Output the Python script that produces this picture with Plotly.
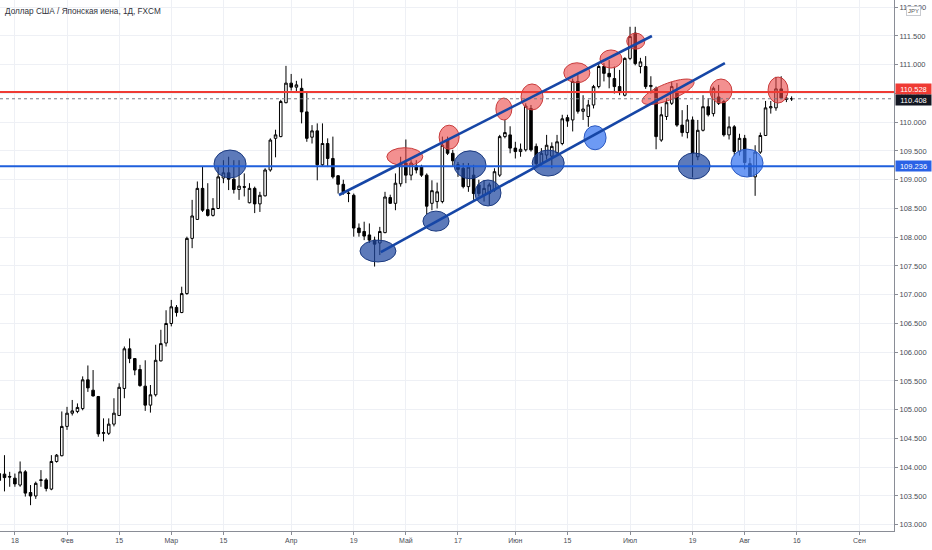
import plotly.graph_objects as go
import pandas as pd
import numpy as np

# ---------------- data (USD/JPY daily) ----------------
dates = pd.bdate_range("2021-01-13", "2021-08-13").strftime("%Y-%m-%d").tolist()

open_ = [
    # Jan
    103.77, 103.88, 103.84, 103.81, 103.69, 103.92, 103.56, 103.50, 103.77, 103.78, 103.62, 104.10, 104.20,
    # Feb
    104.71, 104.94, 104.97, 105.02, 105.52, 105.34, 105.23, 104.59, 104.59, 104.75, 104.90, 105.37, 106.06,
    105.89, 105.70, 105.41, 105.08, 105.26, 105.85, 106.16,
    # Mar
    106.50, 106.78, 106.69, 107.02, 107.98, 108.31, 108.85, 108.48, 108.38, 108.50, 109.03, 109.12, 109.01,
    108.83, 108.88, 108.60, 108.85, 108.58, 108.72, 109.17, 109.72, 109.75, 110.34,
    # Apr
    110.68, 110.61, 110.59, 110.18, 109.74, 109.85, 109.26, 109.63, 109.37, 109.07, 108.92, 108.77, 108.73,
    108.16, 108.10, 108.04, 107.95, 107.90, 108.08, 108.69, 108.59, 108.93,
    # May
    109.29, 109.08, 109.24, 109.22, 109.08, 108.59, 108.62, 108.62, 109.69, 109.46, 109.26, 109.20, 108.88,
    109.08, 108.91, 108.73, 108.76, 108.82, 109.08, 109.75, 109.78,
    # Jun
    109.55, 109.49, 109.52, 110.24, 109.58, 109.28, 109.43, 109.41, 109.47, 109.63, 110.08, 110.04, 110.71,
    110.19, 110.10, 110.30, 110.62, 110.97, 110.85, 110.76, 110.62, 110.47,
    # Jul
    111.11, 111.55, 110.97, 110.97, 110.62, 110.59, 109.69, 110.10, 110.33, 110.53, 109.95, 109.82, 110.04,
    109.40, 109.86, 110.27, 110.15, 110.44, 110.36, 109.78, 109.92, 109.49,
    # Aug
    109.72, 109.28, 109.05, 109.48, 109.77, 110.25, 110.25, 110.58, 110.42, 110.41,
]
high = [
    103.95, 104.21, 103.92, 103.89, 104.10, 103.95, 103.69, 103.75, 103.95, 103.81, 104.21, 104.23, 104.97,
    105.05, 105.17, 105.11, 105.58, 105.77, 105.69, 105.24, 104.85, 104.85, 105.20, 105.46, 106.10, 106.24,
    105.89, 105.78, 105.86, 105.43, 106.13, 106.39, 106.73,
    106.91, 106.82, 107.14, 108.01, 108.65, 108.97, 109.23, 108.94, 108.68, 109.23, 109.34, 109.40, 109.34,
    109.34, 109.11, 108.94, 108.88, 108.79, 109.20, 109.72, 109.87, 110.39, 110.98,
    110.84, 110.72, 110.76, 110.53, 109.95, 109.98, 109.98, 109.72, 109.75, 109.08, 109.00, 108.82, 108.76,
    108.24, 108.27, 108.24, 108.01, 108.18, 108.79, 108.74, 109.11, 109.40,
    109.70, 109.34, 109.34, 109.26, 109.11, 108.99, 108.95, 109.75, 109.75, 109.52, 109.31, 109.29, 109.29,
    109.26, 109.00, 108.99, 108.95, 109.20, 109.78, 110.04, 109.93,
    109.66, 109.63, 110.33, 110.30, 109.63, 109.55, 109.78, 109.65, 109.78, 110.13, 110.13, 110.76, 110.82,
    110.47, 110.39, 110.65, 111.03, 111.03, 111.08, 110.97, 110.91, 111.13,
    111.66, 111.66, 111.12, 111.15, 110.80, 110.62, 110.27, 110.42, 110.70, 110.68, 110.21, 110.30, 110.10,
    110.04, 110.47, 110.42, 110.62, 110.65, 110.39, 110.10, 109.95, 109.80,
    109.78, 109.38, 109.60, 109.82, 110.37, 110.37, 110.79, 110.80, 110.47, 110.45,
]
low = [
    103.70, 103.58, 103.66, 103.66, 103.66, 103.49, 103.34, 103.45, 103.66, 103.58, 103.60, 104.08, 104.19,
    104.65, 104.90, 104.94, 104.99, 105.31, 105.23, 104.53, 104.45, 104.56, 104.71, 104.89, 105.20, 105.81,
    105.60, 105.40, 104.98, 104.95, 105.23, 105.84, 106.10,
    106.45, 106.62, 106.68, 107.00, 107.81, 108.30, 108.44, 108.36, 108.36, 108.49, 108.94, 108.82, 108.76,
    108.65, 108.71, 108.59, 108.42, 108.44, 108.71, 109.14, 109.39, 109.74, 110.33,
    110.55, 110.53, 109.98, 109.66, 109.63, 108.99, 109.23, 109.22, 109.02, 108.76, 108.74, 108.61, 108.01,
    108.01, 107.95, 107.90, 107.49, 107.69, 108.07, 108.58, 108.47, 108.88,
    108.94, 108.99, 109.11, 109.05, 108.40, 108.47, 108.50, 108.59, 109.43, 109.23, 109.05, 108.85, 108.79,
    108.65, 108.71, 108.62, 108.56, 108.79, 109.05, 109.72, 109.46,
    109.37, 109.40, 109.49, 109.49, 109.23, 109.23, 109.35, 109.20, 109.45, 109.60, 109.92, 109.84, 110.15,
    110.04, 109.92, 110.24, 110.59, 110.71, 110.59, 110.50, 110.47, 110.45,
    111.08, 110.99, 110.85, 110.58, 110.50, 109.53, 109.66, 110.04, 110.30, 109.92, 109.75, 109.72, 109.04,
    109.34, 109.84, 110.10, 110.10, 110.30, 109.75, 109.70, 109.42, 109.42,
    109.18, 109.05, 108.72, 109.45, 109.76, 110.15, 110.20, 110.40, 110.35, 110.37,
]
close = [
    103.89, 103.82, 103.83, 103.71, 103.92, 103.55, 103.50, 103.72, 103.78, 103.63, 104.10, 104.21, 104.71,
    104.94, 104.98, 105.04, 105.52, 105.38, 105.24, 104.58, 104.60, 104.75, 104.94, 105.39, 106.06, 105.89,
    105.69, 105.42, 105.08, 105.26, 105.86, 106.15, 106.50,
    106.79, 106.69, 107.02, 107.98, 108.37, 108.85, 108.47, 108.38, 108.50, 109.05, 109.12, 109.01, 108.83,
    108.89, 108.87, 108.85, 108.58, 108.73, 109.17, 109.69, 109.78, 110.36, 110.68,
    110.61, 110.65, 110.18, 109.72, 109.85, 109.26, 109.63, 109.37, 109.05, 108.92, 108.79, 108.76, 108.16,
    108.08, 108.02, 107.95, 107.88, 108.10, 108.70, 108.59, 108.94, 109.29,
    109.08, 109.29, 109.17, 109.08, 108.54, 108.81, 108.79, 109.60, 109.46, 109.33, 109.18, 108.88, 109.22,
    108.76, 108.76, 108.85, 108.91, 109.14, 109.75, 109.82, 109.55,
    109.49, 109.53, 110.28, 109.52, 109.28, 109.46, 109.60, 109.58, 109.66, 110.06, 110.02, 110.71, 110.19,
    110.23, 110.30, 110.62, 110.97, 110.85, 110.79, 110.62, 110.53, 111.11,
    111.49, 111.02, 111.05, 110.62, 110.64, 109.75, 110.13, 110.34, 110.62, 109.95, 109.82, 110.04, 109.46,
    109.86, 110.27, 110.13, 110.59, 110.33, 109.78, 109.92, 109.49, 109.72,
    109.30, 109.06, 109.48, 109.77, 110.25, 110.27, 110.58, 110.42, 110.40, 110.408,
]

tick_dates = ["2021-01-18", "2021-02-01", "2021-02-15", "2021-03-01", "2021-03-15", "2021-04-01",
              "2021-04-19", "2021-05-03", "2021-05-17", "2021-06-01", "2021-06-15", "2021-07-01",
              "2021-07-19", "2021-08-02", "2021-08-16", "2021-09-01"]
tick_labels = ["18", "Фев", "15", "Мар", "15", "Апр", "19", "Май", "17", "Июн", "15", "Июл",
               "19", "Авг", "16", "Сен"]

# horizontal levels
resistance_level = 110.528
support_level = 109.236
last_price = 110.408

# channel lines: (date, day fraction, price)
channel_upper = [("2021-04-14", 0.17, 108.735), ("2021-07-07", 0.2, 111.50)]
channel_lower = [("2021-04-26", 0.2, 107.743), ("2021-07-27", 0.2, 111.03)]

# marked ellipses: (date, day fraction, price, half-width days, half-height price)
blue_marks = [("2021-03-16", 0.27, 109.274, 3.07, 0.243), ("2021-04-23", 0.65, 107.76, 3.45, 0.19),
              ("2021-05-10", 0.78, 108.28, 2.5, 0.174), ("2021-05-19", 0.3, 109.26, 3.07, 0.243),
              ("2021-05-24", 0.75, 108.77, 2.5, 0.226), ("2021-06-09", 0.3, 109.29, 3.07, 0.226),
              ("2021-07-19", 0.3, 109.24, 3.07, 0.226)]
light_blue_marks = [("2021-06-22", 0.3, 109.73, 2.11, 0.209), ("2021-08-02", 0.45, 109.29, 3.07, 0.243)]
red_marks = [("2021-04-30", 0.8, 109.40, 3.45, 0.157), ("2021-05-13", 0.3, 109.74, 1.92, 0.209),
             ("2021-05-27", 0.8, 110.23, 1.53, 0.191), ("2021-06-04", 0.2, 110.44, 2.11, 0.226),
             ("2021-06-16", 0.8, 110.86, 2.5, 0.174), ("2021-06-25", 0.35, 111.10, 2.11, 0.157),
             ("2021-07-02", 0.1, 111.41, 1.73, 0.139), ("2021-07-26", 0.45, 110.543, 2.11, 0.209),
             ("2021-08-10", 0.4, 110.56, 1.92, 0.226)]
# tilted ellipse: centre, major semi-axis vector, minor semi-axis vector (days, price)
tilted_mark = ("2021-07-12", 0.3, 110.53, (4.95, 0.175), (0.55, -0.135))

# ---------------- figure ----------------
calendar = pd.bdate_range("2021-01-13", "2021-09-30").strftime("%Y-%m-%d").tolist()
cal_pos = {d: i for i, d in enumerate(calendar)}
xpos = [cal_pos[d] for d in dates]


def px(d, f=0.0):
    return cal_pos[d] + f


fig = go.Figure()
fig.add_trace(go.Candlestick(
    x=xpos, open=open_, high=high, low=low, close=close,
    increasing=dict(line=dict(color="#000000", width=1), fillcolor="#ffffff"),
    decreasing=dict(line=dict(color="#000000", width=1), fillcolor="#000000"),
    whiskerwidth=0, showlegend=False, hoverinfo="skip",
))

shapes = []


def ell(mark, fill, border):
    d, f, p, rx, ry = mark
    c = px(d, f)
    return dict(type="circle", x0=c - rx, x1=c + rx, y0=p - ry, y1=p + ry,
                fillcolor=fill, line=dict(color=border, width=1), layer="above")


RED_FILL, RED_LINE = "rgba(235,70,70,0.6)", "#c83a3a"
for m in blue_marks:
    shapes.append(ell(m, "rgba(30,70,160,0.72)", "#1b3a80"))
for m in light_blue_marks:
    shapes.append(ell(m, "rgba(60,120,240,0.75)", "#2a58c0"))
for m in red_marks:
    shapes.append(ell(m, RED_FILL, RED_LINE))

d, f, p, (ax_, ay_), (bx_, by_) = tilted_mark
c = px(d, f)
t = np.linspace(0, 2 * np.pi, 60)
pts = [(c + np.cos(a) * ax_ + np.sin(a) * bx_, p + np.cos(a) * ay_ + np.sin(a) * by_) for a in t]
path = "M " + " L ".join(f"{x:.4f},{y:.4f}" for x, y in pts) + " Z"
shapes.append(dict(type="path", path=path, fillcolor=RED_FILL,
                   line=dict(color=RED_LINE, width=1), layer="above"))

# levels
shapes.append(dict(type="line", xref="paper", x0=0, x1=1, y0=last_price, y1=last_price,
                   line=dict(color="#787b86", width=1, dash="dot"), layer="above"))
shapes.append(dict(type="line", xref="paper", x0=0, x1=1, y0=resistance_level, y1=resistance_level,
                   line=dict(color="#ef3b34", width=2), layer="above"))
shapes.append(dict(type="line", xref="paper", x0=0, x1=1, y0=support_level, y1=support_level,
                   line=dict(color="#1f5fdc", width=2), layer="above"))

for seg in (channel_upper, channel_lower):
    (d0, f0, p0), (d1, f1, p1) = seg
    shapes.append(dict(type="line", x0=px(d0, f0), x1=px(d1, f1), y0=p0, y1=p1,
                       line=dict(color="#1646a6", width=2.6), layer="above"))

font_family = "Liberation Sans, Arial, sans-serif"
annotations = [
    dict(text="Доллар США / Японская иена, 1Д, FXCM", xref="paper", yref="paper", x=0, y=1,
         xanchor="left", yanchor="top", xshift=3, yshift=-5, showarrow=False,
         font=dict(size=8.2, color="#2f323a", family=font_family)),
]
for val, col, shift in ((resistance_level, "#ef3b34", 3), (last_price, "#131722", -1.5),
                        (support_level, "#2a62e6", 0)):
    annotations.append(dict(text=f"{val:.3f}", xref="paper", yref="y", x=1, y=val, xanchor="left",
                            yanchor="middle", xshift=1, yshift=shift, showarrow=False, bgcolor=col,
                            borderpad=1, width=33, height=8,
                            font=dict(size=7.5, color="white", family=font_family)))
annotations.append(dict(text="JPY", xref="paper", yref="paper", x=1, y=1, xanchor="left", yanchor="top",
                        xshift=12, yshift=-6, showarrow=False, bgcolor="white", bordercolor="#c8cad0",
                        borderwidth=1, borderpad=1, font=dict(size=6, color="#555", family=font_family)))

fig.update_layout(
    width=932, height=550,
    margin=dict(l=0, r=38, t=0, b=19),
    plot_bgcolor="white", paper_bgcolor="white",
    shapes=shapes, annotations=annotations,
    showlegend=False,
    font=dict(family=font_family),
    xaxis=dict(range=[0.142, 171.64], rangeslider=dict(visible=False),
               tickmode="array", tickvals=[cal_pos[d] for d in tick_dates], ticktext=tick_labels,
               showgrid=True, gridcolor="#eef0f5", gridwidth=1, zeroline=False,
               showline=True, linecolor="#8a8d96", linewidth=1,
               ticks="outside", ticklen=3, tickcolor="#8a8d96",
               tickfont=dict(size=7, color="#4a4d56")),
    yaxis=dict(side="right", range=[102.891, 112.126], tick0=103, dtick=0.5, tickformat=".3f",
               showgrid=True, gridcolor="#eef0f5", gridwidth=1, zeroline=False,
               showline=True, linecolor="#8a8d96", linewidth=1,
               ticks="outside", ticklen=3, tickcolor="#8a8d96",
               tickfont=dict(size=7.5, color="#4a4d56")),
)

fig.write_html("out.html", config={"displayModeBar": False},
               post_script="document.body.style.margin='0';")
